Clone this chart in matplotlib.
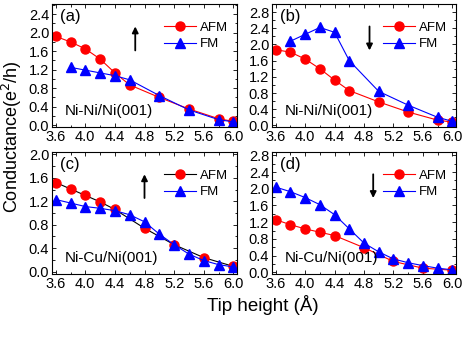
import matplotlib
matplotlib.use("Agg")
import matplotlib.pyplot as plt
from matplotlib.ticker import MultipleLocator

plt.rcParams['font.family'] = ['Liberation Sans', 'DejaVu Sans']

# (a) Ni-Ni/Ni(001), spin up
a_afm_x = [3.6, 3.8, 4.0, 4.2, 4.4, 4.6, 5.0, 5.4, 5.8, 6.0]
a_afm_y = [1.92, 1.80, 1.65, 1.43, 1.13, 0.87, 0.60, 0.35, 0.14, 0.08]
a_fm_x = [3.8, 4.0, 4.2, 4.4, 4.6, 5.0, 5.4, 5.8, 6.0]
a_fm_y = [1.25, 1.19, 1.13, 1.07, 0.98, 0.64, 0.33, 0.12, 0.07]

# (b) Ni-Ni/Ni(001), spin down
b_afm_x = [3.6, 3.8, 4.0, 4.2, 4.4, 4.6, 5.0, 5.4, 5.8, 6.0]
b_afm_y = [1.87, 1.81, 1.64, 1.40, 1.12, 0.86, 0.58, 0.33, 0.13, 0.08]
b_fm_x = [3.8, 4.0, 4.2, 4.4, 4.6, 5.0, 5.4, 5.8, 6.0]
b_fm_y = [2.08, 2.25, 2.42, 2.30, 1.60, 0.84, 0.50, 0.20, 0.10]

# (c) Ni-Cu/Ni(001), spin up
c_afm_x = [3.6, 3.8, 4.0, 4.2, 4.4, 4.8, 5.2, 5.6, 6.0]
c_afm_y = [1.52, 1.41, 1.30, 1.19, 1.06, 0.74, 0.46, 0.24, 0.09]
c_fm_x = [3.6, 3.8, 4.0, 4.2, 4.4, 4.6, 4.8, 5.0, 5.2, 5.4, 5.6, 5.8, 6.0]
c_fm_y = [1.23, 1.17, 1.11, 1.08, 1.04, 0.97, 0.85, 0.64, 0.46, 0.30, 0.19, 0.12, 0.08]

# (d) Ni-Cu/Ni(001), spin down
d_afm_x = [3.6, 3.8, 4.0, 4.2, 4.4, 4.8, 5.2, 5.6, 6.0]
d_afm_y = [1.26, 1.14, 1.04, 0.96, 0.88, 0.59, 0.26, 0.10, 0.05]
d_fm_x = [3.6, 3.8, 4.0, 4.2, 4.4, 4.6, 4.8, 5.0, 5.2, 5.4, 5.6, 5.8, 6.0]
d_fm_y = [2.04, 1.93, 1.79, 1.62, 1.38, 1.04, 0.70, 0.49, 0.32, 0.23, 0.16, 0.10, 0.06]

panels = [
    # label, system, afm, fm, ylim top, arrow up?, arrow x, afm line colour
    ("(a)", "Ni-Ni/Ni(001)", (a_afm_x, a_afm_y), (a_fm_x, a_fm_y), 2.62, True, 0.45, "red"),
    ("(b)", "Ni-Ni/Ni(001)", (b_afm_x, b_afm_y), (b_fm_x, b_fm_y), 3.0, False, 0.53, "red"),
    ("(c)", "Ni-Cu/Ni(001)", (c_afm_x, c_afm_y), (c_fm_x, c_fm_y), 2.04, True, 0.50, "black"),
    ("(d)", "Ni-Cu/Ni(001)", (d_afm_x, d_afm_y), (d_fm_x, d_fm_y), 2.88, False, 0.55, "red"),
]

W, H = 463, 349
fig = plt.figure(figsize=(W / 100, H / 100), dpi=100)
boxes = [(52, 4, 185, 123), (272, 4, 184, 123), (52, 152, 185, 122), (272, 152, 184, 122)]

for (lab, sys, afm, fm, ytop, up, ax_x, afm_lc), (x0, y0, w, h) in zip(panels, boxes):
    ax = fig.add_axes([x0 / W, 1 - (y0 + h) / H, w / W, h / H])
    ax.plot(afm[0], afm[1], color=afm_lc, lw=0.8, marker='o', ms=6.5,
            mfc='red', mec='red', label='AFM')
    ax.plot(fm[0], fm[1], color='blue', lw=0.8, marker='^', ms=7,
            mfc='blue', mec='blue', label='FM')
    ax.set_xlim(3.55, 6.05)
    ax.set_ylim(-0.04, ytop)
    ax.xaxis.set_major_locator(MultipleLocator(0.4))
    ax.xaxis.set_minor_locator(MultipleLocator(0.2))
    ax.yaxis.set_major_locator(MultipleLocator(0.4))
    ax.yaxis.set_minor_locator(MultipleLocator(0.2))
    ax.tick_params(which='both', direction='in', top=True, right=True, labelsize=10.5, pad=2)
    ax.tick_params(which='major', length=3, width=0.6)
    ax.tick_params(which='minor', length=1.8, width=0.6)
    ax.text(0.045, 0.9, lab, transform=ax.transAxes, fontsize=12, va='center')
    ax.text(0.07, 0.13, sys, transform=ax.transAxes, fontsize=11, va='center')
    if up:
        ax.annotate('', xy=(ax_x, 0.84), xytext=(ax_x, 0.6), xycoords='axes fraction',
                    arrowprops=dict(arrowstyle='-|>', color='black', lw=1.3, mutation_scale=9))
    else:
        ax.annotate('', xy=(ax_x, 0.6), xytext=(ax_x, 0.84), xycoords='axes fraction',
                    arrowprops=dict(arrowstyle='-|>', color='black', lw=1.3, mutation_scale=9))
    ax.legend(loc='upper right', frameon=False, fontsize=9.5, handlelength=2.4,
              handletextpad=0.3, borderaxespad=0.3, labelspacing=0.3,
              bbox_to_anchor=(1.0, 0.93))

fig.text(12 / W, 1 - 137 / H, "Conductance(e$^2$/h)", rotation=90, fontsize=13,
         ha='center', va='center')
fig.text(263 / W, 1 - 305 / H, "Tip height (Å)", fontsize=13.5, ha='center', va='center')

fig.savefig("out.png", dpi=100)
